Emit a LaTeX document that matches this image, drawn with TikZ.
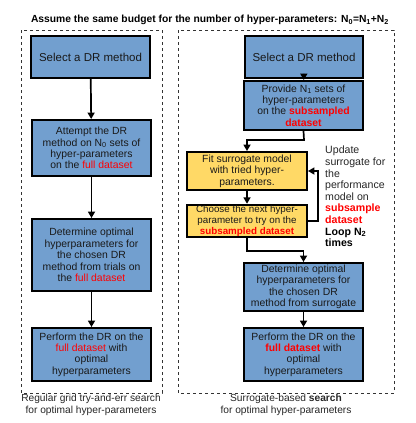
\documentclass[tikz,border=0pt]{standalone}
\usepackage{fontspec}
\setmainfont{Liberation Sans}
\usetikzlibrary{arrows.meta}
\definecolor{boxblue}{HTML}{729FCF}
\definecolor{boxyellow}{HTML}{FFD966}
\definecolor{hired}{HTML}{FF0000}
\begin{document}
\begin{tikzpicture}[x=1pt,y=-1pt,
  stage/.style={draw=black, line width=1.9pt, fill=boxblue, minimum width=119pt, inner sep=1pt, align=center, font=\fontsize{10.4}{11.4}\selectfont, text=black!90},
  ystage/.style={stage, fill=boxyellow, minimum width=120pt},
  frame/.style={draw=black!80, dashed, line width=0.8pt},
  flow/.style={line width=1.7pt, -{Triangle[width=7pt,length=6.5pt]}},
  captext/.style={align=center, font=\fontsize{10.2}{11.4}\selectfont, text=black!85}
]
\useasboundingbox (0,0) rectangle (415,423);
\node[font=\bfseries\fontsize{10.3}{12}\selectfont] (title) at (210,20) {Assume the same budget for the number of hyper-parameters: N\textsubscript{0}=N\textsubscript{1}+N\textsubscript{2}};
\draw[frame] (21,30) rectangle (162,393);
\draw[frame] (178,30) rectangle (394,393);
% left column
\node[stage, minimum height=42pt, font=\fontsize{11.5}{13}\selectfont] (l1) at (90.5,57) {Select a DR method};
\node[stage, minimum height=56pt] (l2) at (91.5,148) {Attempt the DR\\method on N\textsubscript{0} sets of\\hyper-parameters\\on the \textcolor{hired}{full dataset}};
\node[stage, minimum height=72pt] (l3) at (91.5,255) {Determine optimal\\hyperparameters for\\the chosen DR\\method from trials on\\the \textcolor{hired}{full dataset}};
\node[stage, minimum height=53pt] (l4) at (91.5,354.5) {Perform the DR on the\\\textcolor{hired}{full dataset} with\\optimal\\hyperparameters};
\draw[flow] (l1) -- (l2);
\draw[flow] (l2) -- (l3);
\draw[flow] (l3) -- (l4);
\node[captext] (lcap) at (91,405) {Regular grid try-and-err search\\for optimal hyper-parameters};
% right column
\node[stage, minimum width=118pt, minimum height=42pt, font=\fontsize{11.5}{13}\selectfont] (r1) at (304,57) {Select a DR method};
\node[stage, minimum height=49pt] (r2) at (303.5,105.5) {Provide N\textsubscript{1} sets of\\hyper-parameters\\on the \textcolor{hired}{\bfseries subsampled}\\\textcolor{hired}{\bfseries dataset}};
\node[ystage, minimum height=38pt] (r3) at (247,171) {Fit surrogate model\\with tried hyper-\\parameters.};
\node[ystage, minimum height=32pt, font=\fontsize{9.8}{10.7}\selectfont] (r4) at (247,221) {Choose the next hyper-\\parameter to try on the\\\textcolor{hired}{\bfseries subsampled dataset}};
\node[stage, minimum height=48pt] (r5) at (303.5,287) {Determine optimal\\hyperparameters for\\the chosen DR\\method from surrogate};
\node[stage, minimum height=53pt] (r6) at (303.5,354.5) {Perform the DR on the\\\textcolor{hired}{\bfseries full dataset} with\\optimal\\hyperparameters};
\coordinate (k1) at (304,140);
\coordinate (k2) at (247,251);
\coordinate (k3) at (318,221);
\coordinate (k4) at (318,171);
\draw[flow] (r1) -- (r2);
\draw[flow] (r2.south) -- (k1) -| (r3.north);
\draw[flow] (r3) -- (r4);
\draw[flow] (r4.south) -- (k2) -| (r5.north);
\draw[flow] (r5) -- (r6);
\draw[flow] (r4.east) -- (k3) -- (k4) -- (r3.east);
\node[anchor=north west, align=left, inner sep=0pt, font=\fontsize{10.6}{11.6}\selectfont, text=black!85] (note) at (325,146) {Update\\surrogate for\\the\\performance\\model on\\\textcolor{hired}{\bfseries subsample}\\\textcolor{hired}{\bfseries dataset}\\\textbf{\color{black}Loop N\textsubscript{2}}\\\textbf{\color{black}times}};
\node[captext] (rcap) at (286,405) {Surrogate-based \textbf{search}\\for optimal hyper-parameters};
\end{tikzpicture}
\end{document}
